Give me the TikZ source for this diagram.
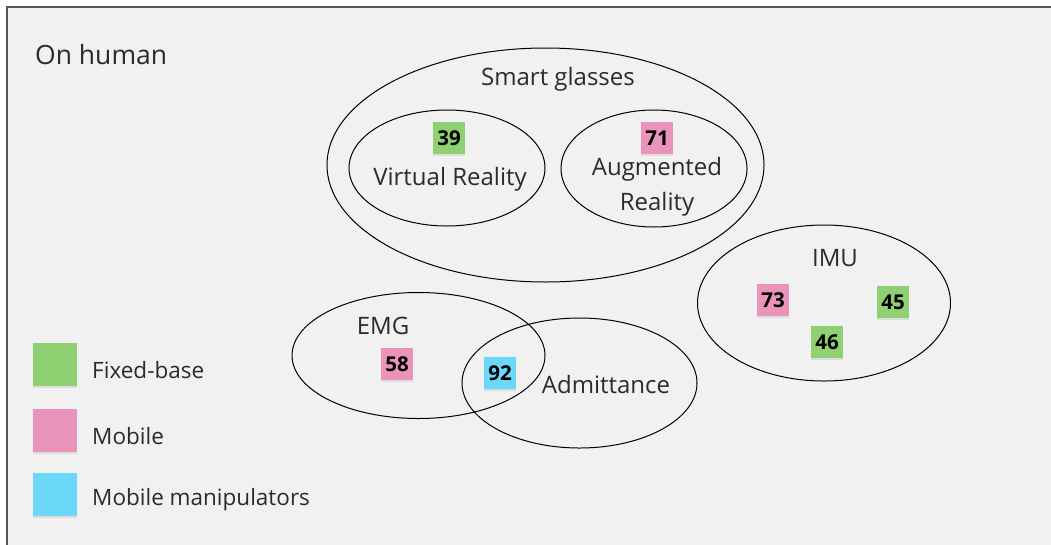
\documentclass[tikz,border=0pt]{standalone}
\usepackage{fontspec}
\setmainfont{Open Sans}
\usetikzlibrary{shapes.geometric,shadows}
\definecolor{bg}{HTML}{F1F1F1}
\definecolor{frame}{HTML}{555555}
\definecolor{sgreen}{HTML}{8FD172}
\definecolor{spink}{HTML}{EA94BC}
\definecolor{sblue}{HTML}{6BD7F9}
\definecolor{ink}{HTML}{2B2B2B}
\tikzset{
  set/.style={draw=black, line width=1pt, ellipse, inner sep=0pt, fill=none},
  lbl/.style={text=ink, font=\fontsize{24}{28}\selectfont, inner sep=0pt, align=center},
  leglbl/.style={text=ink, font=\fontsize{22.5}{26}\selectfont, inner sep=0pt, anchor=west},
  sticky/.style={minimum width=32pt, minimum height=32pt, inner sep=0pt,
     text=black, font=\bfseries\fontsize{20.5}{22}\selectfont,
     drop shadow={opacity=0.18, shadow xshift=0pt, shadow yshift=-2pt}},
  legsq/.style={minimum width=44pt, minimum height=43pt, inner sep=0pt,
     drop shadow={opacity=0.18, shadow xshift=0pt, shadow yshift=-2pt}},
}
\begin{document}
\begin{tikzpicture}[x=1pt,y=-1pt]
\useasboundingbox (0,0) rectangle (1051,544);
\fill[white] (0,0) rectangle (1051,544);
\fill[bg] (7,7) rectangle (1060,560);
\draw[frame, line width=1.5pt] (7,560) -- (7,7) -- (1060,7);

\node[text=ink, font=\fontsize{26.5}{30}\selectfont, inner sep=0pt, anchor=west] (title) at (35,55) {On human};

% Smart glasses
\node[set, minimum width=437pt, minimum height=234pt] (sg) at (545.5,165) {};
\node[lbl] (sgl) at (558,79) {Smart glasses};
\node[set, minimum width=196pt, minimum height=116pt] (vr) at (447,168) {};
\node[set, minimum width=186pt, minimum height=117pt] (ar) at (654,168.5) {};
\node[sticky, fill=sgreen] (s39) at (449,138) {39};
\node[lbl] (vrl) at (450,179) {Virtual Reality};
\node[sticky, fill=spink] (s71) at (657,138) {71};
\node[lbl] (arl) at (657,187) {Augmented\\[7pt]Reality};

% IMU
\node[set, minimum width=253pt, minimum height=156pt] (imu) at (824,303) {};
\node[lbl] (imul) at (835,258) {IMU};
\node[sticky, fill=spink] (s73) at (773,300) {73};
\node[sticky, fill=sgreen] (s45) at (893,302) {45};
\node[sticky, fill=sgreen] (s46) at (827,342) {46};

% EMG / Admittance
\node[set, minimum width=253pt, minimum height=126pt] (emg) at (418.5,355.5) {};
\node[set, minimum width=235pt, minimum height=130pt] (adm) at (579.5,383) {};
\node[lbl] (emgl) at (383,326) {EMG};
\node[sticky, fill=spink] (s58) at (397,364) {58};
\node[sticky, fill=sblue] (s92) at (500,373) {92};
\node[lbl] (adml) at (606,384) {Admittance};

% Legend
\node[legsq, fill=sgreen] (lg) at (55,364.5) {};
\node[legsq, fill=spink] (lp) at (55,430) {};
\node[legsq, fill=sblue] (lb) at (55,494) {};
\node[leglbl] (lgt) at (92,370) {Fixed-base};
\node[leglbl] (lpt) at (92,436) {Mobile};
\node[leglbl] (lbt) at (92,500) {Mobile manipulators};
\end{tikzpicture}
\end{document}
